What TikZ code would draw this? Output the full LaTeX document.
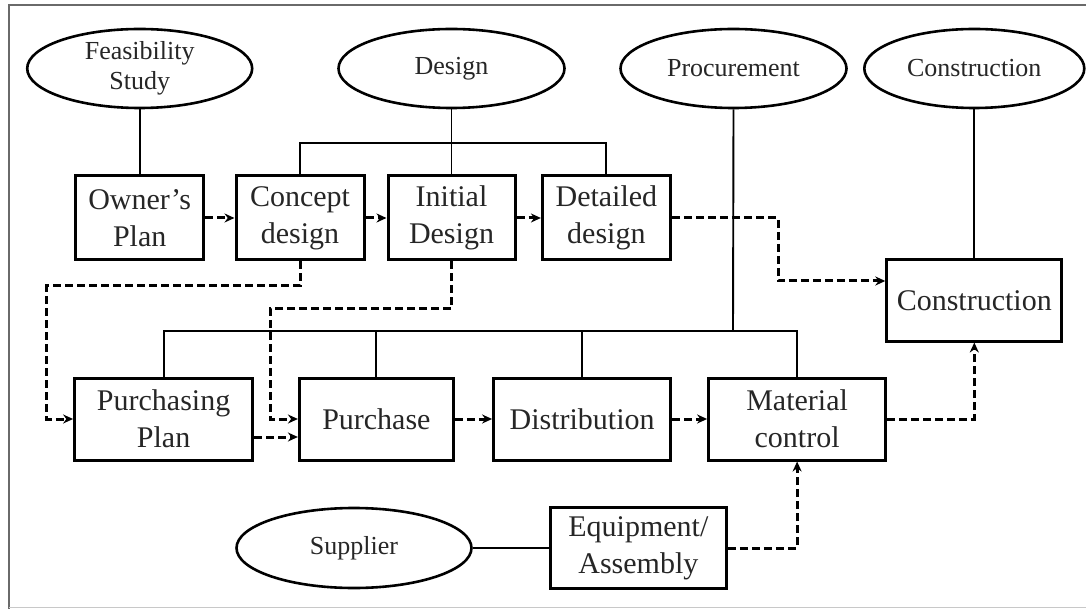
\documentclass[tikz,border=0pt]{standalone}
\usepackage{fontspec}
\setmainfont{Liberation Serif}
\usetikzlibrary{shapes.geometric,arrows.meta}

\definecolor{inkgray}{HTML}{262626}
\definecolor{framedark}{HTML}{6A6A6A}
\definecolor{framelight}{HTML}{C8C8C8}

\tikzset{
  stagebox/.style={draw=black, line width=3pt, inner sep=0pt, align=center,
    text=inkgray, font=\fontsize{30}{37}\selectfont},
  phase/.style={ellipse, draw=black, line width=2.6pt, inner sep=0pt, align=center,
    text=inkgray, font=\fontsize{26}{30}\selectfont,
    minimum height=79pt},
  link/.style={draw=black, line width=1.9pt},
  flow/.style={draw=black, line width=3pt, dash pattern=on 8pt off 4pt,
    -{Stealth[length=10pt,width=9pt]}},
}

\begin{document}
\begin{tikzpicture}[x=1pt,y=-1pt]
  \useasboundingbox (0,0) rectangle (1086,609);
  % page frame
  \draw[framedark, line width=2.6pt] (9,609) -- (9,5) -- (1086,5);
  \draw[framelight, line width=1.8pt] (9,607.5) -- (1086,607.5);

  % project phases
  \node[phase, minimum width=225pt] (feas)   at (139.7,68.5) {Feasibility\\Study};
  \node[phase, minimum width=226pt] (design) at (451.5,68.5) {Design};
  \node[phase, minimum width=226pt] (proc)   at (733.5,68.5) {Procurement};
  \node[phase, minimum width=220pt] (consE)  at (974.3,68.5) {Construction};

  % design stages
  \node[stagebox, minimum width=128pt, minimum height=84pt] (owner)    at (139.7,218) {Owner’s\\Plan};
  \node[stagebox, minimum width=128pt, minimum height=84pt] (concept)  at (300,218)   {Concept\\design};
  \node[stagebox, minimum width=127pt, minimum height=84pt] (initial)  at (451.5,218) {Initial\\Design};
  \node[stagebox, minimum width=128pt, minimum height=84pt] (detailed) at (606.4,218) {Detailed\\design};
  \node[stagebox, minimum width=175pt, minimum height=81pt] (consB)    at (974.3,300.5) {Construction};

  % procurement stages
  \node[stagebox, minimum width=178pt, minimum height=82pt] (pplan)    at (163.6,419) {Purchasing\\Plan};
  \node[stagebox, minimum width=154pt, minimum height=82pt] (purchase) at (376.4,419) {Purchase};
  \node[stagebox, minimum width=177pt, minimum height=82pt] (distrib)  at (582.1,419) {Distribution};
  \node[stagebox, minimum width=177pt, minimum height=82pt] (matctl)   at (797.1,419) {Material\\control};

  % supply side
  \node[phase, minimum width=235pt, minimum height=80pt] (supplier) at (354,548) {Supplier};
  \node[stagebox, minimum width=176pt, minimum height=81pt] (equip) at (638.4,548) {Equipment/\\Assembly};

  % bus points
  \coordinate (dbar) at (451.5,143);
  \coordinate (pbar) at (733,331);
  \coordinate (dc) at (778,281);
  \coordinate (c1) at (46.7,286);
  \coordinate (c2) at (270,309);

  % phase ownership lines
  \draw[link] (feas.south) -- (owner.north);
  \draw[link] (design.south) -- (initial.north);
  \draw[link] (concept.north) |- (dbar) -| (detailed.north);
  \draw[link] (proc.south) -- (pbar);
  \draw[link] (pplan.north) |- (pbar) -| (matctl.north);
  \draw[link] (purchase.north) -- (purchase.north |- pbar);
  \draw[link] (distrib.north) -- (distrib.north |- pbar);
  \draw[link] (consE.south) -- (consB.north);
  \draw[link] (supplier.east) -- (equip.west);

  % information / material flow
  \draw[flow] (owner.east) -- (concept.west);
  \draw[flow] (concept.east) -- (initial.west);
  \draw[flow] (initial.east) -- (detailed.west);
  \draw[flow] (detailed.east) -| (dc) -- (dc -| consB.west);
  \draw[flow] (concept.south) |- (c1) |- (pplan.west);
  \draw[flow] (initial.south) |- (c2) |- (purchase.west);
  \draw[flow] ([yshift=-18pt]pplan.east) -- ([yshift=-18pt]purchase.west);
  \draw[flow] (purchase.east) -- (distrib.west);
  \draw[flow] (distrib.east) -- (matctl.west);
  \draw[flow] (matctl.east) -| (consB.south);
  \draw[flow] (equip.east) -| (matctl.south);
\end{tikzpicture}
\end{document}
